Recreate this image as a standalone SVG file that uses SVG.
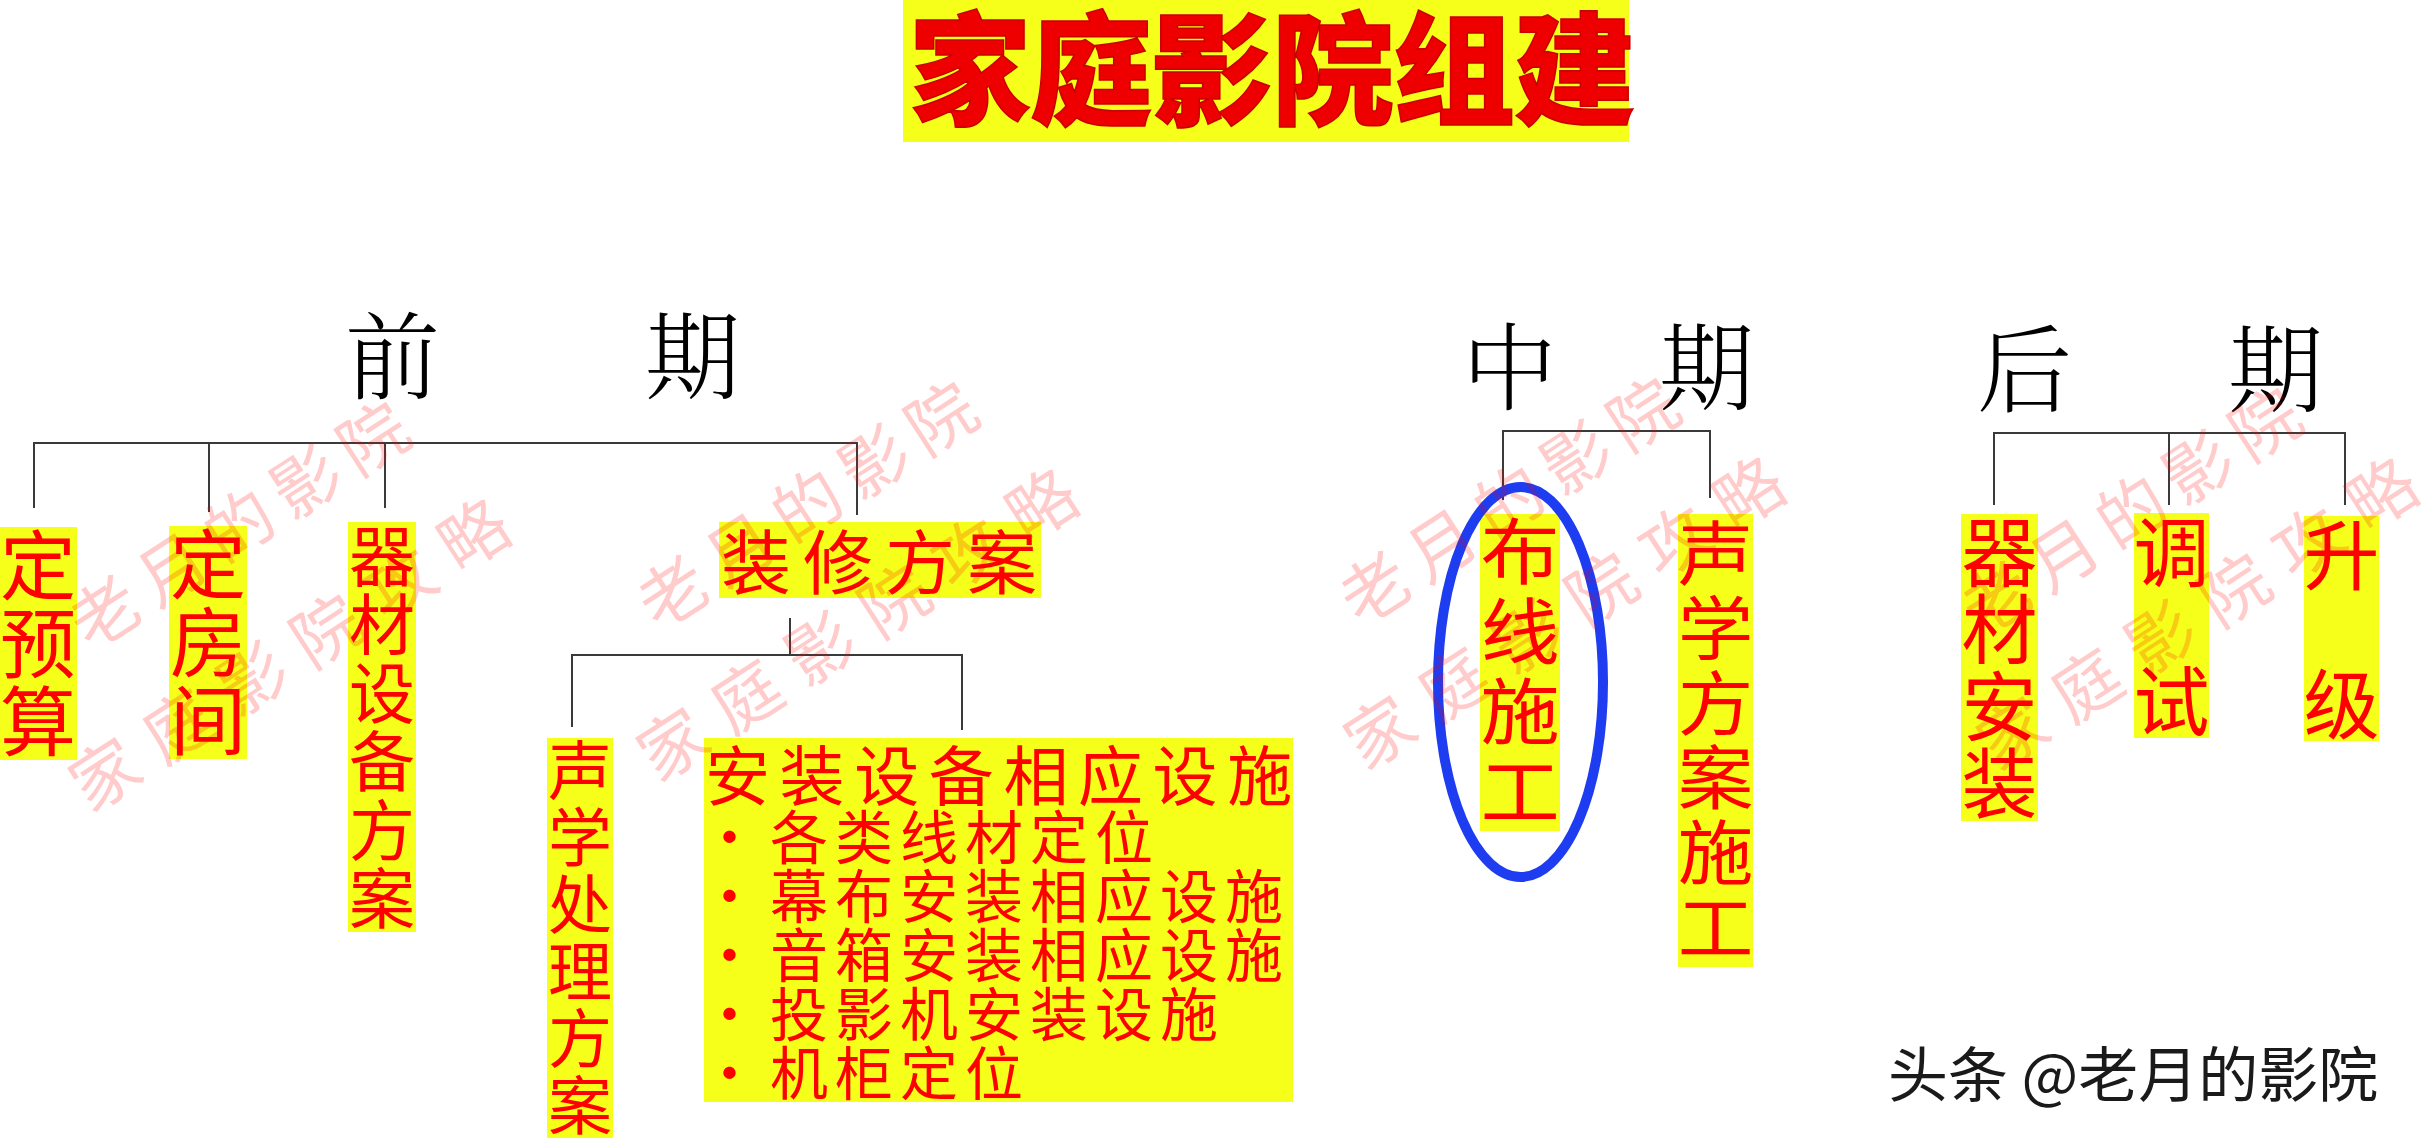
<svg xmlns="http://www.w3.org/2000/svg" width="2425" height="1139" viewBox="0 0 2425 1139">
<style>
.bg{fill:#ffffff}
.box{fill:#F5FF1A}
.red{fill:#FF0000;font-family:"Noto Sans CJK SC","Noto Sans",sans-serif}
.v{text-anchor:middle}
.head{fill:#000;font-family:"Noto Serif CJK SC","Noto Sans CJK SC",serif;font-size:95px;font-weight:300}
.conn{stroke:#3a3a3a;stroke-width:2;fill:none}
.wm{fill:#FF0000;opacity:0.2;font-family:"Noto Sans CJK SC",sans-serif;font-size:68px;letter-spacing:12px}
.wm2{letter-spacing:20px}
</style>
<rect class="bg" x="0" y="0" width="2425" height="1139"/>

<g id="connectors">
  <path class="conn" d="M34 508V443H857V515M209 443V512M385 443V508"/>
  <path class="conn" d="M790 618V655M572 727V655H962V730"/>
  <path class="conn" d="M1503 500V431H1710V498"/>
  <path class="conn" d="M1994 505V433H2345V505M2169 433V505"/>
</g>

<g id="title">
  <rect class="box" x="903" y="0" width="726" height="142"/>
  <text class="red" x="909" y="115" style="font-size:122px;font-weight:900;letter-spacing:-1px;fill:#EE0000;stroke:#C80000;stroke-width:1.5px">家庭影院组建</text>
</g>

<g id="head-qianqi">
  <text class="head" y="392"><tspan x="345">前</tspan><tspan x="645">期</tspan></text>
</g>
<g id="head-zhongqi">
  <text class="head" y="403"><tspan x="1462">中</tspan><tspan x="1659">期</tspan></text>
</g>
<g id="head-houqi">
  <text class="head" y="405"><tspan x="1977">后</tspan><tspan x="2228">期</tspan></text>
</g>

<g id="n-dingyusuan">
  <rect class="box" x="0" y="527" width="77" height="233"/>
  <text class="red v" style="font-size:76px"><tspan x="38" y="594">定</tspan><tspan x="38" y="672">预</tspan><tspan x="38" y="750">算</tspan></text>
</g>
<g id="n-dingfangjian">
  <rect class="box" x="169" y="526" width="78" height="233"/>
  <text class="red v" style="font-size:76px"><tspan x="208" y="593">定</tspan><tspan x="208" y="671">房</tspan><tspan x="208" y="749">间</tspan></text>
</g>
<g id="n-qicaishebei">
  <rect class="box" x="348" y="522" width="68" height="410"/>
  <text class="red v" style="font-size:66px"><tspan x="382" y="581">器</tspan><tspan x="382" y="649">材</tspan><tspan x="382" y="718">设</tspan><tspan x="382" y="786">备</tspan><tspan x="382" y="855">方</tspan><tspan x="382" y="923">案</tspan></text>
</g>
<g id="n-zhuangxiu">
  <rect class="box" x="719" y="522" width="322" height="76"/>
  <text class="red" x="721" y="589" style="font-size:70px;letter-spacing:12px">装修方案</text>
</g>
<g id="n-shengxuechuli">
  <rect class="box" x="547" y="738" width="66" height="400"/>
  <text class="red v" style="font-size:64px"><tspan x="580" y="794">声</tspan><tspan x="580" y="861">学</tspan><tspan x="580" y="928">处</tspan><tspan x="580" y="995">理</tspan><tspan x="580" y="1062">方</tspan><tspan x="580" y="1129">案</tspan></text>
</g>
<g id="n-anzhuang">
  <rect class="box" x="704" y="738" width="589" height="364"/>
  <text class="red" x="705" y="800" style="font-size:65px;letter-spacing:9.6px">安装设备相应设施</text>
  <text class="red" style="font-size:58px;letter-spacing:7px">
    <tspan class="v" x="733" y="859">·</tspan><tspan x="770" y="859">各类线材定位</tspan>
    <tspan class="v" x="733" y="918">·</tspan><tspan x="770" y="918">幕布安装相应设施</tspan>
    <tspan class="v" x="733" y="977">·</tspan><tspan x="770" y="977">音箱安装相应设施</tspan>
    <tspan class="v" x="733" y="1036">·</tspan><tspan x="770" y="1036">投影机安装设施</tspan>
    <tspan class="v" x="733" y="1095">·</tspan><tspan x="770" y="1095">机柜定位</tspan>
  </text>
</g>

<g id="n-buxian">
  <rect class="box" x="1480" y="514" width="80" height="317"/>
  <text class="red v" style="font-size:72px" transform="translate(1520 0) scale(1.1 1)"><tspan x="0" y="578">布</tspan><tspan x="0" y="658">线</tspan><tspan x="0" y="738">施</tspan><tspan x="0" y="818">工</tspan></text>
  <ellipse cx="1520.5" cy="682" rx="82.5" ry="195" fill="none" stroke="#1E3CF0" stroke-width="10"/>
</g>
<g id="n-shengxuefangan">
  <rect class="box" x="1678" y="514" width="75" height="453"/>
  <text class="red v" style="font-size:70px" transform="translate(1715.5 0) scale(1.08 1)"><tspan x="0" y="580">声</tspan><tspan x="0" y="655">学</tspan><tspan x="0" y="730">方</tspan><tspan x="0" y="804">案</tspan><tspan x="0" y="879">施</tspan><tspan x="0" y="954">工</tspan></text>
</g>

<g id="n-qicaianzhuang">
  <rect class="box" x="1961" y="514" width="77" height="307"/>
  <text class="red v" style="font-size:76px"><tspan x="1999.5" y="581">器</tspan><tspan x="1999.5" y="658">材</tspan><tspan x="1999.5" y="735">安</tspan><tspan x="1999.5" y="812">装</tspan></text>
</g>
<g id="n-tiaoshi">
  <rect class="box" x="2134" y="513" width="75" height="225"/>
  <text class="red v" style="font-size:76px"><tspan x="2171.5" y="581">调</tspan><tspan x="2171.5" y="730">试</tspan></text>
</g>
<g id="n-shengji">
  <rect class="box" x="2304" y="516" width="75" height="225"/>
  <text class="red v" style="font-size:76px"><tspan x="2341.5" y="584">升</tspan><tspan x="2341.5" y="733">级</tspan></text>
</g>

<g id="watermarks">
  <text class="wm" transform="translate(90 652) rotate(-33)">老月的影院</text>
  <text class="wm wm2" transform="translate(90 814) rotate(-33)">家庭影院攻略</text>
  <text class="wm" transform="translate(658 632) rotate(-33)">老月的影院</text>
  <text class="wm wm2" transform="translate(658 784) rotate(-33)">家庭影院攻略</text>
  <text class="wm" transform="translate(1360 628) rotate(-33)">老月的影院</text>
  <text class="wm wm2" transform="translate(1365 772) rotate(-33)">家庭影院攻略</text>
  <text class="wm" transform="translate(1982 638) rotate(-33)">老月的影院</text>
  <text class="wm wm2" transform="translate(1998 773) rotate(-33)">家庭影院攻略</text>
  <text x="1888" y="1097" style="fill:#1a1a1a;font-family:'Noto Sans CJK SC',sans-serif;font-size:60px">头条 @老月的影院</text>
</g>
</svg>
